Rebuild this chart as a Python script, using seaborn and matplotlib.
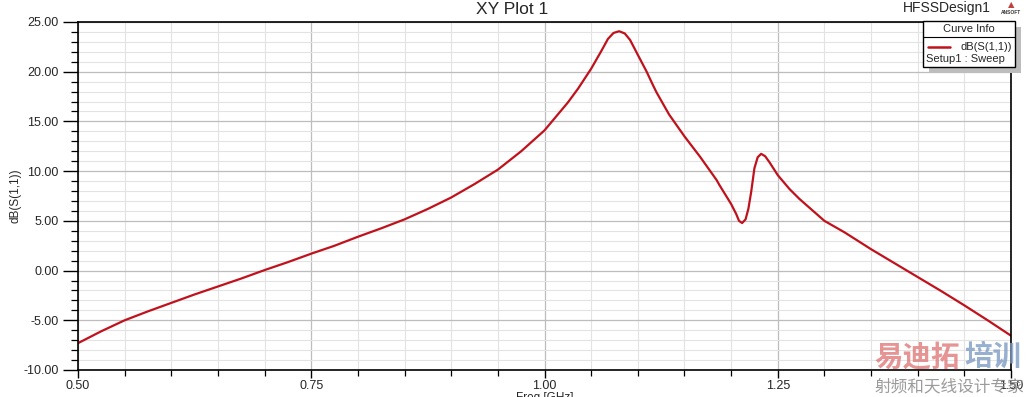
import numpy as np
import pandas as pd
import matplotlib
matplotlib.use("Agg")
import matplotlib.pyplot as plt
from matplotlib.ticker import MultipleLocator, FormatStrFormatter
from matplotlib.patches import Rectangle
from matplotlib.lines import Line2D
import seaborn as sns

# ---- data ----
freq_ghz = [0.50, 0.525, 0.55, 0.575, 0.60, 0.625, 0.65, 0.675, 0.70, 0.725,
            0.75, 0.775, 0.80, 0.825, 0.85, 0.875, 0.90, 0.925, 0.95, 0.975,
            1.00, 1.0125, 1.025, 1.036, 1.05, 1.061, 1.068, 1.074, 1.080,
            1.086, 1.0917, 1.10, 1.1095, 1.116, 1.1202, 1.1335, 1.15, 1.1667,
            1.1845, 1.1875, 1.20, 1.2054, 1.2085, 1.2118, 1.2155, 1.2185,
            1.2215, 1.225, 1.2285, 1.2322, 1.2365, 1.2411, 1.25, 1.2626,
            1.2733, 1.30, 1.3215, 1.35, 1.375, 1.40, 1.425, 1.45, 1.475, 1.50]
db_s11 = [-7.3, -6.1, -5.0, -4.1, -3.25, -2.4, -1.6, -0.8, 0.05, 0.85,
          1.7, 2.5, 3.4, 4.25, 5.15, 6.2, 7.35, 8.7, 10.15, 12.0,
          14.1, 15.5, 16.9, 18.3, 20.3, 22.1, 23.3, 23.9, 24.07,
          23.85, 23.2, 21.7, 20.0, 18.7, 17.9, 15.7, 13.5, 11.45,
          9.1, 8.6, 6.7, 5.7, 5.0, 4.78, 5.15, 6.2,
          7.9, 10.3, 11.4, 11.74, 11.5, 10.9, 9.6, 8.2,
          7.2, 5.0, 3.85, 2.15, 0.75, -0.65, -2.05, -3.5, -5.0, -6.55]
x_ticks = [0.50, 0.75, 1.00, 1.25, 1.50]
y_ticks = [-10, -5, 0, 5, 10, 15, 20, 25]
series_name = "dB(S(1,1))"
setup_name = "Setup1 : Sweep"

df = pd.DataFrame({"Freq [GHz]": freq_ghz, "dB(S(1,1))": db_s11})

sns.set_style("white")
plt.rcParams["font.family"] = ["Liberation Sans", "DejaVu Sans"]

W, H = 1029, 397
fig = plt.figure(figsize=(W / 100, H / 100), dpi=100)
ax = fig.add_axes([78 / W, 1 - 370 / H, (1011 - 78) / W, (370 - 22) / H])

line_color = "#c0121c"
sns.lineplot(data=df, x="Freq [GHz]", y="dB(S(1,1))", ax=ax,
             color=line_color, linewidth=1.6, sort=False, legend=False)
for ln in ax.lines:
    ln.set_solid_joinstyle("round")

ax.set_xlim(0.5, 1.5)
ax.set_ylim(-10, 25)
ax.set_xticks(x_ticks)
ax.set_yticks(y_ticks)
ax.xaxis.set_minor_locator(MultipleLocator(0.05))
ax.yaxis.set_minor_locator(MultipleLocator(1.0))
ax.xaxis.set_major_formatter(FormatStrFormatter("%.2f"))
ax.yaxis.set_major_formatter(FormatStrFormatter("%.2f"))

ax.grid(True, which="major", color="#bdbdbd", linewidth=0.9)
ax.grid(True, which="minor", color="#e3e3e3", linewidth=0.8)
ax.set_axisbelow(True)

for s in ax.spines.values():
    s.set_visible(True)
    s.set_color("black")
    s.set_linewidth(1.2)

ax.tick_params(axis="y", which="major", direction="out", length=11, width=1,
               color="black", labelsize=9, pad=3, left=True)
ax.tick_params(axis="y", which="minor", direction="out", length=5, width=0.9,
               color="black", left=True)
ax.tick_params(axis="x", which="major", direction="out", length=6, width=1,
               color="black", labelsize=9, pad=1, bottom=True)
ax.tick_params(axis="x", which="minor", direction="out", length=4, width=0.9,
               color="black", bottom=True)

ax.set_xlabel("Freq [GHz]", fontsize=8.5, labelpad=0)
ax.set_ylabel("dB(S(1,1))", fontsize=8.5, labelpad=1)

# title and design name
fig.text(512 / W, 1 - 9 / H, "XY Plot 1", ha="center", va="center", fontsize=12.5)
fig.text(947 / W, 1 - 8 / H, "HFSSDesign1", ha="center", va="center", fontsize=10)
fig.text(1011 / W, 1 - 5 / H, "\u25B2", ha="center", va="center", fontsize=6,
         color="#c04040", family=["DejaVu Sans"])
fig.text(1011 / W, 1 - 13 / H, "ANSOFT", ha="center", va="center", fontsize=3.5,
         color="#333333", fontweight="bold")

# Curve Info box (HFSS style legend)
bx0, bx1, by0, by1 = 923, 1015, 21, 67
shadow = Rectangle((bx0 + 6, H - by1 - 6), bx1 - bx0, by1 - by0,
                   transform=None, facecolor="#bdbdbd", edgecolor="none", zorder=5)
box = Rectangle((bx0, H - by1), bx1 - bx0, by1 - by0, transform=None,
                facecolor="white", edgecolor="black", linewidth=1.0, zorder=6)
fig.patches.extend([shadow, box])
fig.lines.append(Line2D([bx0 / W, bx1 / W], [1 - 37 / H, 1 - 37 / H],
                        transform=fig.transFigure, color="black", linewidth=0.8, zorder=7))
fig.text((bx0 + bx1) / 2 / W, 1 - 29 / H, "Curve Info", ha="center", va="center",
         fontsize=8, zorder=8)
fig.lines.append(Line2D([928 / W, 950 / W], [1 - 47 / H, 1 - 47 / H],
                        transform=fig.transFigure, color=line_color, linewidth=1.8, zorder=8))
fig.text(1012 / W, 1 - 47 / H, series_name, ha="right", va="center", fontsize=8, zorder=8)
fig.text(926 / W, 1 - 59 / H, setup_name, ha="left", va="center", fontsize=8, zorder=8)

# watermark
cjk = ["Noto Sans CJK SC", "DejaVu Sans"]
fig.text(874 / W, 1 - 357 / H, "易迪拓", ha="left", va="center", fontsize=20.5,
         fontweight="bold", color="#e07a7a", alpha=0.8, family=cjk, zorder=9)
fig.text(964 / W, 1 - 357 / H, "培训", ha="left", va="center", fontsize=20.5,
         fontweight="bold", color="#7f9cc4", alpha=0.8, family=cjk, zorder=9)
fig.text(875 / W, 1 - 387 / H, "射频和天线设计专家", ha="left", va="center",
         fontsize=12, color="#8a8a8a", alpha=0.85, family=cjk, zorder=9)

fig.savefig("out.png", dpi=100)
